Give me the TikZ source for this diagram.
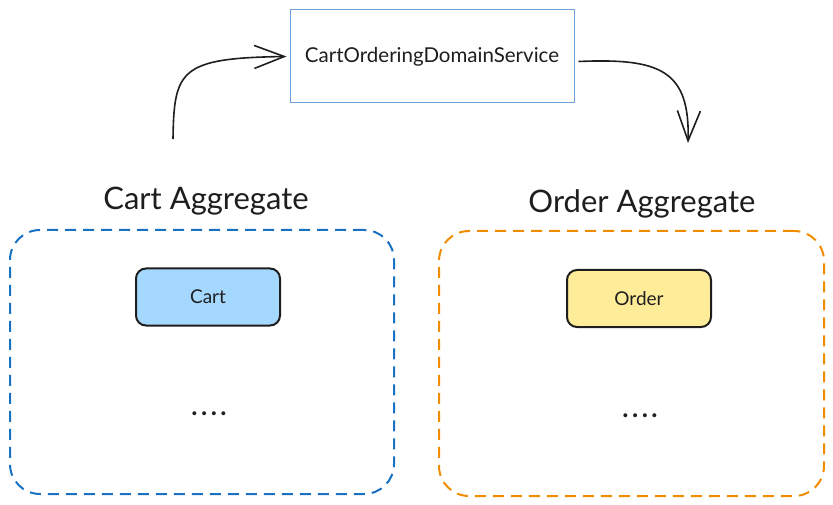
\documentclass[tikz,border=0pt]{standalone}
\usepackage{fontspec}
\setmainfont{Lato}
\usetikzlibrary{arrows.meta}
\definecolor{ink}{HTML}{1E1E1E}
\definecolor{aggblue}{HTML}{1971C2}
\definecolor{aggorange}{HTML}{F08C00}
\definecolor{cartfill}{HTML}{A5D8FF}
\definecolor{orderfill}{HTML}{FFEC99}
\definecolor{svcline}{HTML}{6FA1DC}
\newcommand{\dotrow}{.\hspace{3.5pt}.\hspace{3.5pt}.\hspace{3.5pt}.}
\tikzset{
  aggbox/.style={draw, line width=2pt, dash pattern=on 11pt off 7pt, rounded corners=30pt, inner sep=0pt},
  entity/.style={draw=ink, line width=2pt, rounded corners=10pt, inner sep=0pt, minimum width=144pt, minimum height=57pt, text=ink, font=\fontsize{19}{21}\selectfont},
  agglabel/.style={text=ink, font=\fontsize{31}{34}\selectfont},
  dots/.style={text=ink, font=\bfseries\fontsize{26}{28}\selectfont},
  flow/.style={draw=ink, line width=1.6pt, -{Straight Barb[length=30pt,width=23pt,line width=1.6pt]}},
}
\begin{document}
\begin{tikzpicture}[x=1pt,y=-1pt]
\useasboundingbox (0,0) rectangle (833,505);
% service
\node[draw=svcline, line width=1pt, fill=white, minimum width=284pt, minimum height=93pt, inner sep=0pt, text=ink, font=\fontsize{20.5}{23}\selectfont] (svc) at (432,56.5) {CartOrderingDomainService};
% aggregates
\node[aggbox, draw=aggblue, minimum width=384pt, minimum height=264pt] (cartagg) at (202,362) {};
\node[aggbox, draw=aggorange, minimum width=385pt, minimum height=265pt] (orderagg) at (631.5,363.5) {};
\node[agglabel] (cartlbl) at (206,201) {Cart Aggregate};
\node[agglabel] (orderlbl) at (642,204) {Order Aggregate};
\node[entity, fill=cartfill] (cart) at (208,297) {Cart};
\node[entity, fill=orderfill] (order) at (639,298.5) {Order};
\node[dots] (cartdots) at (209,414) {\dotrow};
\node[dots] (orderdots) at (640,416) {\dotrow};
% connectors
\coordinate (cstart) at (173,139);
\coordinate (oend) at (688,143);
\draw[flow] (cstart) .. controls (174,70) and (180,58) .. ([xshift=-3pt]svc.west);
\draw[flow] ([xshift=4pt,yshift=-5pt]svc.east) .. controls (660,58) and (690,70) .. (oend);
\end{tikzpicture}
\end{document}
